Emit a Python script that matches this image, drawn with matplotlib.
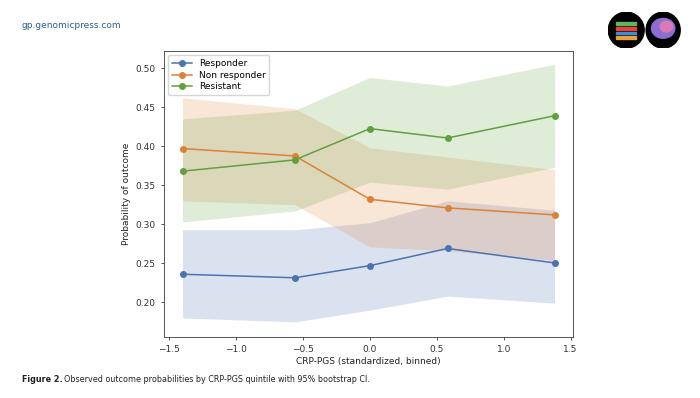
import matplotlib
matplotlib.use('Agg')
import matplotlib.pyplot as plt
from matplotlib.patches import Ellipse

# binned CRP-PGS centres
pgs_bins = [-1.40, -0.56, 0.0, 0.58, 1.38]

# observed probabilities
responder = [0.236, 0.2315, 0.247, 0.269, 0.2505]
non_responder = [0.397, 0.3875, 0.332, 0.321, 0.312]
resistant = [0.368, 0.3825, 0.4225, 0.4105, 0.439]

# 95% bootstrap CI
responder_lo = [0.180, 0.175, 0.190, 0.208, 0.199]
responder_hi = [0.293, 0.293, 0.302, 0.330, 0.318]
non_responder_lo = [0.330, 0.325, 0.271, 0.266, 0.254]
non_responder_hi = [0.462, 0.448, 0.398, 0.386, 0.370]
resistant_lo = [0.303, 0.317, 0.354, 0.345, 0.373]
resistant_hi = [0.435, 0.446, 0.488, 0.477, 0.505]

blue = '#4C72B0'
orange = '#DC8238'
green = '#62A03F'

fig = plt.figure(figsize=(7, 3.98), dpi=100)
ax = fig.add_axes([0.234, 0.154, 0.585, 0.718])

ax.fill_between(pgs_bins, responder_lo, responder_hi, color=blue, alpha=0.2, linewidth=0)
ax.fill_between(pgs_bins, non_responder_lo, non_responder_hi, color=orange, alpha=0.2, linewidth=0)
ax.fill_between(pgs_bins, resistant_lo, resistant_hi, color=green, alpha=0.2, linewidth=0)

ax.plot(pgs_bins, responder, color=blue, marker='o', markersize=4, linewidth=1.1, label='Responder')
ax.plot(pgs_bins, non_responder, color=orange, marker='o', markersize=4, linewidth=1.1, label='Non responder')
ax.plot(pgs_bins, resistant, color=green, marker='o', markersize=4, linewidth=1.1, label='Resistant')

ax.set_xlim(-1.54, 1.52)
ax.set_ylim(0.156, 0.522)
ax.set_xticks([-1.5, -1.0, -0.5, 0.0, 0.5, 1.0, 1.5])
ax.set_yticks([0.20, 0.25, 0.30, 0.35, 0.40, 0.45, 0.50])
ax.tick_params(labelsize=6.5, length=2.5, width=0.6, colors='#333333')
for s in ax.spines.values():
    s.set_linewidth(0.7)
    s.set_color('#555555')

ax.set_xlabel('CRP-PGS (standardized, binned)', fontsize=6.5, labelpad=2, color='#222222')
ax.set_ylabel('Probability of outcome', fontsize=6.5, labelpad=3, color='#222222')
ax.legend(loc='upper left', fontsize=6.5, frameon=True, handlelength=2.2, borderpad=0.4, labelspacing=0.3)

# page header and caption
fig.text(0.031, 0.937, 'gp.genomicpress.com', fontsize=6.5, color='#2f5d8a', va='center')
fig.text(0.031, 0.046, 'Figure 2.', fontsize=5.8, fontweight='bold', color='#222222', va='center')
fig.text(0.092, 0.046, 'Observed outcome probabilities by CRP-PGS quintile with 95% bootstrap CI.',
         fontsize=5.8, color='#222222', va='center')

# journal logos
logo = fig.add_axes([0.869, 0.879, 0.104, 0.0905])
logo.set_xlim(0, 2.03)
logo.set_ylim(0, 1)
logo.axis('off')
logo.add_patch(Ellipse((0.5, 0.5), 1.0, 1.0, color='black'))
logo.add_patch(Ellipse((1.53, 0.5), 0.95, 1.0, color='black'))
for i, c in enumerate(['#e8a13c', '#3a8fd8', '#e8413c', '#5cb85c']):
    logo.add_patch(plt.Rectangle((0.22, 0.25 + i * 0.13), 0.56, 0.08, color=c))
logo.add_patch(Ellipse((1.53, 0.55), 0.65, 0.55, color='#8a6fd1'))
logo.add_patch(Ellipse((1.62, 0.6), 0.35, 0.3, color='#d97ab8'))

fig.savefig('out.png', dpi=100)
